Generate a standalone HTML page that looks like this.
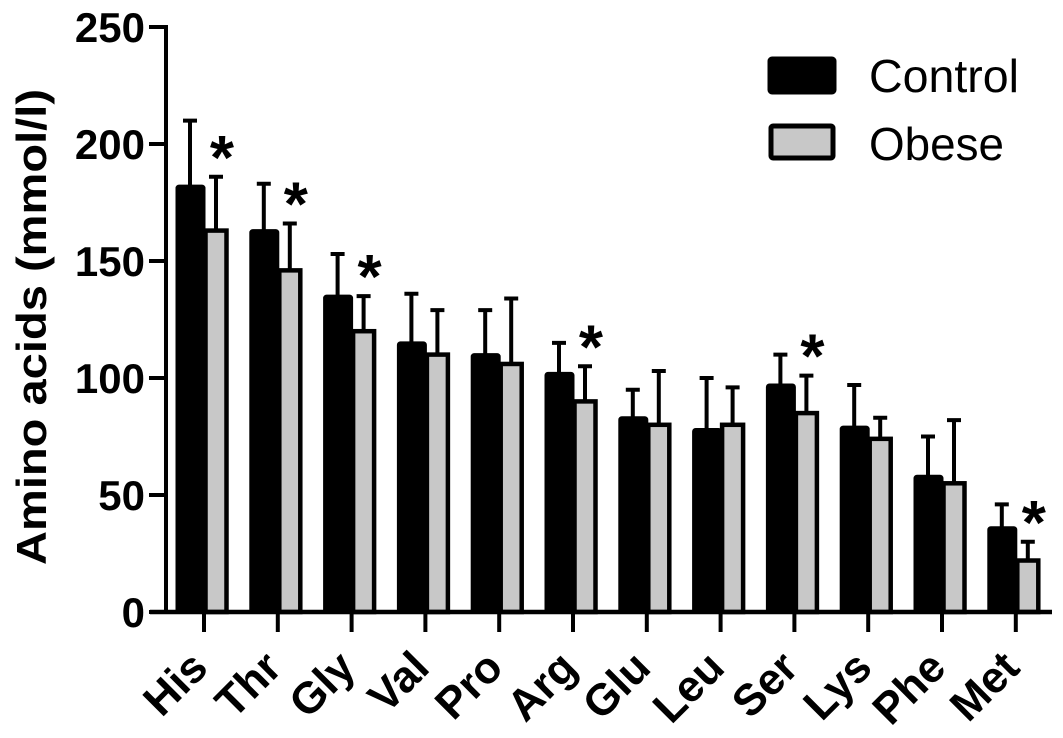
<!DOCTYPE html>
<html><head><meta charset="utf-8"><style>
html,body{margin:0;padding:0;background:#fff;}
svg{display:block;font-family:"Liberation Sans",Arial,sans-serif;font-weight:bold;}
</style></head><body>
<svg id="chart" width="1063" height="738" viewBox="0 0 1063 738"></svg>
<script>
const categories=["His","Thr","Gly","Val","Pro","Arg","Glu","Leu","Ser","Lys","Phe","Met"];
const controlValues=[182,163,135,115,110,102,83,78,97,79,58,36];
const controlErrors=[28,20,18,21,19,13,12,22,13,18,17,10];
const obeseValues=[163,146,120,110,106,90,80,80,85,74,55,22];
const obeseErrors=[23,20,15,19,28,15,23,16,16,9,27,8];
const significant=[true,true,true,false,false,true,false,false,true,false,false,true];
const yTicks=[0,50,100,150,200,250];

const NS="http://www.w3.org/2000/svg";
const svg=document.getElementById('chart');
const y0=612,yTop=27,yMax=250;
function yScale(v){return y0-(v/yMax)*(y0-yTop);}
function xScale(i){return 204+i*73.8;}
function mk(tag,attrs,parent){const e=document.createElementNS(NS,tag);for(const k in attrs)e.setAttribute(k,attrs[k]);(parent||svg).appendChild(e);return e;}

categories.forEach((c,i)=>{
  const x=xScale(i);
  const g=mk('g',{});
  
  
  const ct=yScale(controlValues[i]+controlErrors[i]);
  const e1=mk('path',{d:`M${x-14} ${yScale(controlValues[i])} V${ct} M${x-21} ${ct} H${x-7}`,stroke:'#000','stroke-width':4,fill:'none'},g);
  
  
  const ot=yScale(obeseValues[i]+obeseErrors[i]);
  const e2=mk('path',{d:`M${x+12} ${yScale(obeseValues[i])} V${ot} M${x+5} ${ot} H${x+19}`,stroke:'#000','stroke-width':4,fill:'none'},g);
  
  
  const b1=mk('rect',{x:x-27,y:yScale(controlValues[i]),width:27,height:y0-yScale(controlValues[i]),fill:'#000',stroke:'#000','stroke-width':3,rx:2},g);
  
  
  const b2=mk('rect',{x:x+1.5,y:yScale(obeseValues[i]),width:21,height:y0-yScale(obeseValues[i]),fill:'#c8c8c8',stroke:'#000','stroke-width':4.5},g);
  
  
  if(significant[i]){
    const s=mk('text',{x:x+18,y:ot+2,'font-size':62,'text-anchor':'middle'},g);
    s.textContent='*';
    
    
  }
  const t=mk('line',{x1:x,x2:x,y1:y0,y2:632,stroke:'#000','stroke-width':4});
  
  
  const l=mk('text',{x:0,y:0,'font-size':44,'text-anchor':'end',transform:`translate(${x+6},${670}) rotate(-45)`});
  l.textContent=c;
  
  
});

const ya=mk('line',{x1:166,x2:166,y1:yTop-2,y2:y0+2,stroke:'#000','stroke-width':4});


const xa=mk('line',{x1:150,x2:1052,y1:y0,y2:y0,stroke:'#000','stroke-width':4.5});


yTicks.forEach(v=>{
  const y=yScale(v);
  const t=mk('line',{x1:149,x2:166,y1:y,y2:y,stroke:'#000','stroke-width':4});
  
  
  const l=mk('text',{x:145,y:y+15,'font-size':42,'text-anchor':'end'});
  l.textContent=v;
  
  
});
const yt=mk('text',{x:0,y:0,'font-size':42,'text-anchor':'middle',textLength:476,lengthAdjust:'spacingAndGlyphs',transform:'translate(46,327) rotate(-90)'});
yt.textContent='Amino acids (mmol/l)';



const lg=mk('g',{});


const r1=mk('rect',{x:769,y:58,width:66,height:35,fill:'#000',stroke:'#000','stroke-width':3,rx:3},lg);


const t1=mk('text',{x:869,y:92,'font-size':46,'font-weight':'normal',textLength:150,lengthAdjust:'spacingAndGlyphs'},lg);
t1.textContent='Control';


const r2=mk('rect',{x:771,y:126,width:62,height:32,fill:'#c8c8c8',stroke:'#000','stroke-width':5,rx:2},lg);


const t2=mk('text',{x:869,y:160,'font-size':46,'font-weight':'normal',textLength:135,lengthAdjust:'spacingAndGlyphs'},lg);
t2.textContent='Obese';


</script>
</body></html>
